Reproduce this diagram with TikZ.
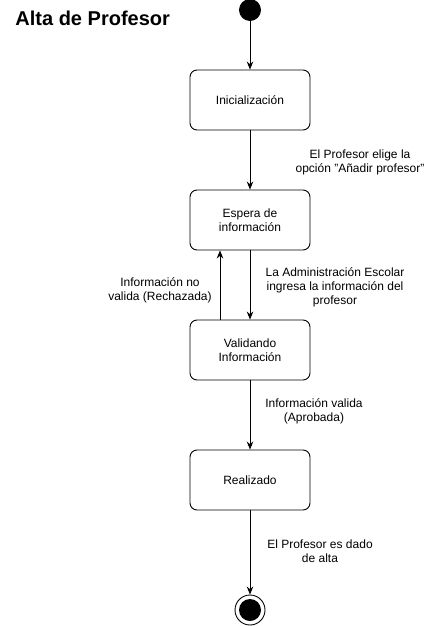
\documentclass[tikz,border=0pt]{standalone}
\usepackage{fontspec}
\setmainfont{Liberation Sans}
\usetikzlibrary{arrows.meta}
\begin{document}
\begin{tikzpicture}[x=1pt, y=-1pt, >={Stealth[length=8pt,width=6.5pt]}, line width=0.9pt,
    estado/.style={draw, rounded corners=7pt, minimum width=120pt, minimum height=60pt, align=center, font=\fontsize{12}{14}\selectfont},
    texto/.style={align=center, font=\fontsize{12}{14}\selectfont}]
    \useasboundingbox (0,0) rectangle (430,626);
    \node[anchor=base west, inner sep=0, font=\fontsize{20}{24}\selectfont\bfseries] (titulo) at (15,26) {Alta de Profesor};
    \node[draw, circle, fill=black, minimum size=21pt, inner sep=0] (inicio) at (250,10) {};
    \node[estado] (ini) at (250,100) {Inicialización};
    \node[estado] (esp) at (250,220) {Espera de\\información};
    \node[estado] (val) at (250,350) {Validando\\Información};
    \node[estado] (rea) at (250,480) {Realizado};
    \node[draw, circle, minimum size=30pt, inner sep=0] (fin) at (250,610) {};
    \node[circle, fill=black, minimum size=22pt, inner sep=0] (finc) at (fin) {};
    \node[texto] (t1) at (360,162) {El Profesor elige la\\opción "Añadir profesor"};
    \node[texto] (t2) at (335,287) {La Administración Escolar\\ingresa la información del\\profesor};
    \node[texto] (t3) at (160,290) {Información no\\valida (Rechazada)};
    \node[texto] (t4) at (314,411) {Información valida\\(Aprobada)};
    \node[texto] (t5) at (320,551) {El Profesor es dado\\de alta};
    \draw [->] (inicio) -- (ini);
    \draw [->] (ini) -- (esp);
    \draw [->] (esp) -- (val);
    \draw [->] ([xshift=-30pt]val.north) -- ([xshift=-30pt]esp.south);
    \draw [->] (val) -- (rea);
    \draw [->] (rea) -- (fin);
\end{tikzpicture}
\end{document}
